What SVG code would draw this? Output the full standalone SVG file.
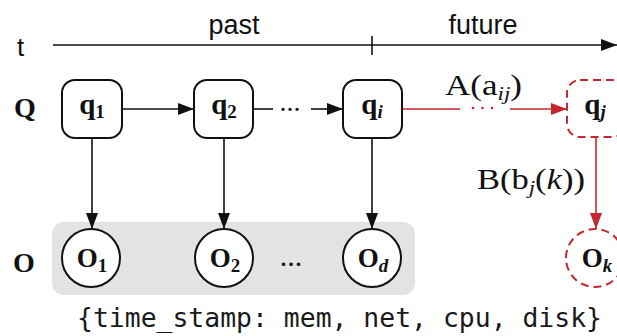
<svg xmlns="http://www.w3.org/2000/svg" width="617" height="336" viewBox="0 0 617 336">
<style>
.sans{font-family:"Liberation Sans",Arial,sans-serif;fill:#111}
.ser{font-family:"Liberation Serif","Times New Roman",serif;fill:#111}
.b{font-weight:bold}
.mono{font-family:"DejaVu Sans Mono","Liberation Mono",monospace;fill:#1a1a1a}
.box{fill:#fff;stroke:#111;stroke-width:2}
.rbox{fill:#fff;stroke:#c4272f;stroke-width:2;stroke-dasharray:8 5}
.ln{stroke:#111;stroke-width:1.6;fill:none}
.rln{stroke:#c4272f;stroke-width:1.6;fill:none}
</style>
<defs>
<marker id="ah" markerUnits="userSpaceOnUse" markerWidth="16" markerHeight="12" refX="16" refY="6" orient="auto"><path d="M0,0 L16,6 L0,12 z" fill="#111"/></marker>
<marker id="rah" markerUnits="userSpaceOnUse" markerWidth="16" markerHeight="12" refX="16" refY="6" orient="auto"><path d="M0,0 L16,6 L0,12 z" fill="#c4272f"/></marker>
</defs>
<rect width="617" height="336" fill="#fff"/>
<rect x="52" y="222" width="363" height="73" rx="12" fill="#e3e3e3"/>
<g id="timeline">
<line x1="53" y1="45" x2="617" y2="45" class="ln" marker-end="url(#ah)"/>
<line x1="372" y1="36" x2="372" y2="55" class="ln"/>
<text x="17" y="56" class="sans" font-size="26">t</text>
<text x="234" y="34" class="sans" font-size="27" text-anchor="middle">past</text>
<text x="483" y="34" class="sans" font-size="27" text-anchor="middle">future</text>
</g>
<text x="25" y="117" class="ser b" font-size="28" text-anchor="middle">Q</text>
<text x="24" y="272" class="ser b" font-size="28" text-anchor="middle">O</text>
<g id="connectors">
<line x1="122" y1="109" x2="194" y2="109" class="ln" marker-end="url(#ah)"/>
<line x1="253" y1="109" x2="273" y2="109" class="ln"/>
<text x="290" y="111" class="ser" font-size="28" text-anchor="middle">...</text>
<line x1="311" y1="109" x2="343" y2="109" class="ln" marker-end="url(#ah)"/>
<line x1="402" y1="109" x2="460" y2="109" class="rln"/>
<line x1="473" y1="108" x2="495" y2="108" stroke="#c4272f" stroke-width="2.6" stroke-linecap="round" stroke-dasharray="0 9.5"/>
<line x1="510" y1="109" x2="567" y2="109" class="rln" marker-end="url(#rah)"/>
<line x1="92" y1="138" x2="92" y2="229" class="ln" marker-end="url(#ah)"/>
<line x1="224" y1="138" x2="224" y2="229" class="ln" marker-end="url(#ah)"/>
<line x1="372" y1="138" x2="372" y2="229" class="ln" marker-end="url(#ah)"/>
<line x1="596" y1="137" x2="596" y2="229" class="rln" marker-end="url(#rah)"/>
<text x="445" y="95" class="ser" font-size="29" textLength="77" lengthAdjust="spacingAndGlyphs">A(a<tspan font-size="19" font-style="italic" dy="5">ij</tspan><tspan dy="-5">)</tspan></text>
<text x="477" y="189" class="ser" font-size="29" textLength="108" lengthAdjust="spacingAndGlyphs">B(b<tspan font-size="19" font-style="italic" dy="5">j</tspan><tspan dy="-5">(</tspan><tspan font-style="italic">k</tspan>))</text>
<text x="291" y="266" class="ser" font-size="30" text-anchor="middle">...</text>
</g>
<g id="q1"><rect x="62" y="80" width="60" height="58" rx="13" class="box"/><text x="92" y="114" class="ser b" font-size="29" text-anchor="middle">q<tspan font-size="19" dy="4">1</tspan></text></g>
<g id="q2"><rect x="194" y="80" width="59" height="58" rx="13" class="box"/><text x="224" y="114" class="ser b" font-size="29" text-anchor="middle">q<tspan font-size="19" dy="4">2</tspan></text></g>
<g id="qi"><rect x="343" y="80" width="59" height="58" rx="13" class="box"/><text x="372" y="114" class="ser b" font-size="29" text-anchor="middle">q<tspan font-size="19" font-style="italic" dy="4">i</tspan></text></g>
<g id="qj"><rect x="567" y="80" width="58" height="57" rx="13" class="rbox"/><text x="595" y="114" class="ser b" font-size="29" text-anchor="middle">q<tspan font-size="19" font-style="italic" dy="4">j</tspan></text></g>
<g id="O1"><circle cx="91" cy="258" r="29" class="box"/><text x="92" y="267" class="ser b" font-size="27" text-anchor="middle">O<tspan font-size="19" dy="5">1</tspan></text></g>
<g id="O2"><circle cx="224" cy="258" r="29" class="box"/><text x="225" y="267" class="ser b" font-size="27" text-anchor="middle">O<tspan font-size="19" dy="5">2</tspan></text></g>
<g id="Od"><circle cx="372" cy="258" r="29" class="box"/><text x="373" y="267" class="ser b" font-size="27" text-anchor="middle">O<tspan font-size="19" font-style="italic" dy="5">d</tspan></text></g>
<g id="Ok"><circle cx="595" cy="258" r="29" class="rbox"/><text x="597" y="267" class="ser b" font-size="27" text-anchor="middle">O<tspan font-size="19" font-style="italic" dy="5">k</tspan></text></g>
<text x="77" y="327" class="mono" font-size="26" textLength="525" lengthAdjust="spacingAndGlyphs">{time_stamp: mem, net, cpu, disk}</text>
</svg>
